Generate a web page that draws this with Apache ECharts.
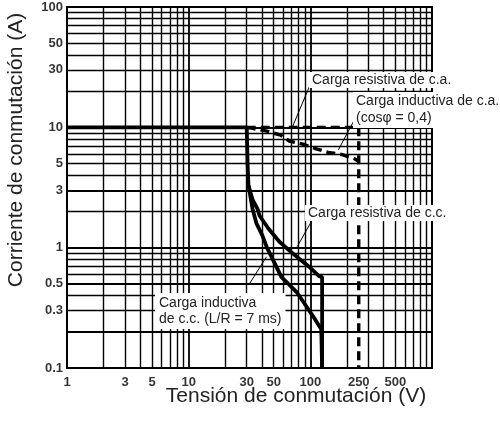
<!DOCTYPE html>
<html>
<head>
<meta charset="utf-8">
<script src="https://cdn.jsdelivr.net/npm/echarts@6/dist/echarts.min.js"></script>
<style>
  html, body { margin: 0; padding: 0; background: #fff; }
  #chart { width: 500px; height: 421px; }
</style>
</head>
<body>
<div id="chart"></div>
<script>
// tick labels
const xTickLabels = [1, 3, 5, 10, 30, 50, 100, 250, 500]
const yTickLabels = [0.1, 0.3, 0.5, 1, 3, 5, 10, 30, 50, 100]

// log grid lines
const xGrid = [2, 3, 4, 5, 6, 7, 8, 9, 10, 20, 30, 40, 50, 60, 70, 80, 90, 100, 200, 300, 400, 500, 600, 700, 800, 900]
const yGrid = [0.2, 0.3, 0.4, 0.5, 0.6, 0.7, 0.8, 0.9, 1, 2, 3, 4, 5, 6, 7, 8, 9, 10, 20, 30, 40, 50, 60, 70, 80, 90]
const yBold = [0.2, 0.5, 1, 3, 10]

// curves [V, A]
const dcResistive = [[1, 10], [30, 10], [30.5, 5], [31, 3.3], [33.5, 2.5], [36.8, 2.1], [38.2, 1.85], [45, 1.45], [55.7, 1.12], [67, 0.95], [81, 0.81], [100, 0.68], [118, 0.58], [125, 0.57], [125, 0.1]]
const dcInductive = [[31, 3.3], [33.5, 2.1], [36, 1.6], [40.4, 1.26], [44, 1.0], [48.8, 0.81], [57.9, 0.57], [66, 0.5], [76.8, 0.43], [90, 0.34], [105, 0.27], [123, 0.21], [125, 0.21], [125, 0.1]]
const acResistive = [[30, 10], [250, 10], [250, 0.1]]
const acInductive = [[30, 10], [33.5, 9.8], [44, 9.3], [57, 8.6], [67, 7.7], [89, 7.2], [108, 6.7], [140, 6.2], [180, 5.95], [230, 5.5], [250, 5.2]]

// pointer lines from labels to curves
const pointers = [
  [[104, 25], [71, 10]],
  [[238, 12.3], [170, 6.5]],
  [[102, 1.65], [78, 1.02]],
  [[31.6, 0.5], [43.6, 0.84]]
]

let chart = echarts.init(document.getElementById('chart'))

const font = 'Liberation Sans, Arial, Helvetica, sans-serif'

function gridLines() {
  let d = []
  xGrid.forEach(v => d.push({ xAxis: v, lineStyle: { width: v === 10 || v === 100 ? 1.8 : 1.4 } }))
  yGrid.forEach(v => d.push({ yAxis: v, lineStyle: { width: yBold.includes(v) ? 2.2 : 1.4 } }))
  return d
}

let option = {
  animation: false,
  grid: {
    left: 67,
    right: 68,
    top: 7,
    bottom: 53,
    show: true,
    borderColor: '#000',
    borderWidth: 2
  },
  xAxis: {
    type: 'log',
    logBase: 10,
    min: 1,
    max: 1000,
    axisLine: { show: false },
    axisTick: { show: false },
    axisLabel: { show: false },
    splitLine: { show: false }
  },
  yAxis: {
    type: 'log',
    logBase: 10,
    min: 0.1,
    max: 100,
    axisLine: { show: false },
    axisTick: { show: false },
    axisLabel: { show: false },
    splitLine: { show: false }
  },
  graphic: [
    {
      type: 'text', x: 296, y: 396, z: 100,
      style: { text: 'Tensión de conmutación (V)', font: '21px ' + font, fill: '#222', align: 'center', verticalAlign: 'middle' }
    },
    {
      type: 'text', x: 16, y: 150, rotation: Math.PI / 2, z: 100,
      style: { text: 'Corriente de conmutación (A)', font: '21px ' + font, fill: '#222', align: 'center', verticalAlign: 'middle' }
    },
    {
      type: 'text', left: 309, top: 72, z: 100,
      style: { text: 'Carga resistiva de c.a.', font: '14px ' + font, fill: '#222', backgroundColor: '#fff', padding: [1, 3] }
    },
    {
      type: 'text', left: 353, top: 92, z: 100,
      style: { text: 'Carga inductiva de c.a.\n(cosφ = 0,4)', font: '14px ' + font, lineHeight: 17, fill: '#222', backgroundColor: '#fff', padding: [1, 3] }
    },
    {
      type: 'text', left: 305, top: 205, z: 100,
      style: { text: 'Carga resistiva de c.c.', font: '14px ' + font, fill: '#222', backgroundColor: '#fff', padding: [1, 3] }
    },
    {
      type: 'text', left: 155, top: 293, z: 100,
      style: { text: 'Carga inductiva\nde c.c. (L/R = 7 ms)', font: '14px ' + font, lineHeight: 16, fill: '#222', backgroundColor: '#fff', padding: [2, 4] }
    }
  ],
  series: [
    {
      type: 'line',
      data: [[1, 0.1]],
      symbol: 'none',
      silent: true,
      z: 1,
      markLine: {
        silent: true,
        symbol: ['none', 'none'],
        label: { show: false },
        lineStyle: { color: '#000', type: 'solid', width: 1.4 },
        data: gridLines()
      }
    },
    {
      name: 'dcResistive',
      type: 'line',
      data: dcResistive,
      symbol: 'none',
      lineStyle: { color: '#000', width: 3.8 },
      z: 5
    },
    {
      name: 'dcInductive',
      type: 'line',
      data: dcInductive,
      symbol: 'none',
      lineStyle: { color: '#000', width: 3.8 },
      z: 5
    },
    {
      name: 'acResistive',
      type: 'line',
      data: acResistive,
      symbol: 'none',
      lineStyle: { color: '#000', width: 3.4, type: [9, 5] },
      z: 5
    },
    {
      name: 'acInductive',
      type: 'line',
      data: acInductive,
      symbol: 'none',
      lineStyle: { color: '#000', width: 3.4, type: [9, 5] },
      z: 5,
      markLine: {
        silent: true,
        symbol: ['none', 'none'],
        label: { show: false },
        lineStyle: { color: '#000', type: 'solid', width: 1 },
        data: pointers.map(p => [{ coord: p[0] }, { coord: p[1] }])
      }
    },
    {
      type: 'scatter',
      data: xTickLabels.map(v => [v, 0.1]),
      symbolSize: 0,
      silent: true,
      label: {
        show: true,
        position: 'bottom',
        distance: 8,
        formatter: p => String(p.value[0]),
        color: '#000',
        fontFamily: font,
        fontWeight: 'bold',
        fontSize: 13
      }
    },
    {
      type: 'scatter',
      data: yTickLabels.map(v => [1, v]),
      symbolSize: 0,
      silent: true,
      label: {
        show: true,
        position: 'left',
        distance: 4,
        formatter: p => String(p.value[1]),
        color: '#000',
        fontFamily: font,
        fontWeight: 'bold',
        fontSize: 13
      }
    }
  ]
}

chart.setOption(option)
</script>
</body>
</html>
